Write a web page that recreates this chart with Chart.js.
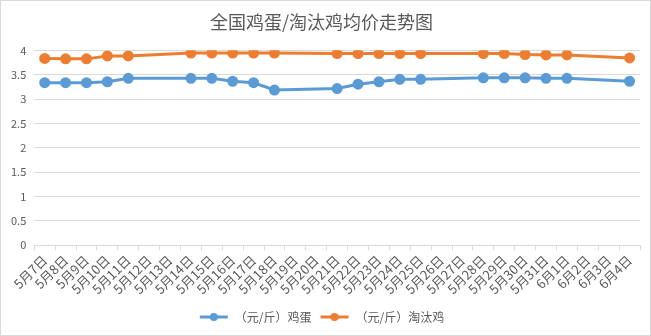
<!DOCTYPE html>
<html>
<head>
<meta charset="utf-8">
<script src="https://cdn.jsdelivr.net/npm/chart.js@4"></script>
<style>
  html, body { margin: 0; padding: 0; background: #fff; }
  .frame { position: relative; width: 649px; height: 334px; border: 1px solid #d9d9d9; }
  canvas { display: block; }
</style>
</head>
<body>
<div class="frame"><canvas id="priceChart" width="649" height="334"></canvas></div>
<script>
// dates on the x axis
const dates = ['5月7日','5月8日','5月9日','5月10日','5月11日','5月12日','5月13日','5月14日','5月15日','5月16日',
  '5月17日','5月18日','5月19日','5月20日','5月21日','5月22日','5月23日','5月24日','5月25日','5月26日',
  '5月27日','5月28日','5月29日','5月30日','5月31日','6月1日','6月2日','6月3日','6月4日'];

// egg price, yuan per jin (null = no quote that day)
const eggPrice = [3.34, 3.34, 3.34, 3.36, 3.43, null, null, 3.43, 3.43, 3.37,
  3.34, 3.19, null, null, 3.22, 3.31, 3.36, 3.41, 3.41, null,
  null, 3.44, 3.44, 3.44, 3.43, 3.43, null, null, 3.37];

// culled hen price, yuan per jin
const henPrice = [3.84, 3.83, 3.83, 3.89, 3.89, null, null, 3.95, 3.95, 3.95,
  3.95, 3.95, null, null, 3.94, 3.94, 3.94, 3.94, 3.94, null,
  null, 3.94, 3.94, 3.92, 3.91, 3.91, null, null, 3.85];

const yTicks = [0, 0.5, 1, 1.5, 2, 2.5, 3, 3.5, 4];

const BLUE = '#5b9bd5';
const ORANGE = '#ed7d31';
const TEXT = '#595959';
const FONT = '"Noto Sans CJK SC", "Microsoft YaHei", sans-serif';

// little line-with-dot marker for the legend
function legendMarker(color) {
  const c = document.createElement('canvas');
  c.width = 30; c.height = 10;
  const g = c.getContext('2d');
  g.strokeStyle = color;
  g.lineWidth = 3;
  g.beginPath(); g.moveTo(1, 5); g.lineTo(29, 5); g.stroke();
  g.fillStyle = color;
  g.beginPath(); g.arc(15, 5, 4, 0, Math.PI * 2); g.fill();
  return c;
}

const ctx = document.getElementById('priceChart').getContext('2d');
new Chart(ctx, {
  type: 'line',
  data: {
    labels: dates,
    datasets: [
      {
        label: '（元/斤）鸡蛋',
        data: eggPrice,
        borderColor: BLUE,
        backgroundColor: BLUE,
        borderWidth: 3,
        pointRadius: 4,
        pointHoverRadius: 5,
        spanGaps: true,
        tension: 0,
        marker: legendMarker(BLUE)
      },
      {
        label: '（元/斤）淘汰鸡',
        data: henPrice,
        borderColor: ORANGE,
        backgroundColor: ORANGE,
        borderWidth: 3,
        pointRadius: 4,
        pointHoverRadius: 5,
        spanGaps: true,
        tension: 0,
        marker: legendMarker(ORANGE)
      }
    ]
  },
  options: {
    responsive: false,
    animation: false,
    layout: { padding: { left: 2, right: 10, top: 4, bottom: 2 } },
    plugins: {
      title: {
        display: true,
        text: '全国鸡蛋/淘汰鸡均价走势图',
        color: TEXT,
        font: { family: FONT, size: 18, weight: 'normal' },
        padding: { top: 6, bottom: 18 }
      },
      legend: {
        position: 'bottom',
        labels: {
          usePointStyle: true,
          pointStyleWidth: 30,
          color: TEXT,
          font: { family: FONT, size: 12 },
          padding: 8,
          generateLabels(chart) {
            return chart.data.datasets.map((ds, i) => ({
              text: ds.label,
              fillStyle: ds.borderColor,
              strokeStyle: ds.borderColor,
              fontColor: TEXT,
              pointStyle: ds.marker,
              hidden: !chart.isDatasetVisible(i),
              datasetIndex: i
            }));
          }
        }
      },
      tooltip: { enabled: true }
    },
    scales: {
      x: {
        offset: true,
        // a bit of extra room under the rotated dates
        afterFit(axis) { axis.height += 4; },
        grid: {
          offset: true,
          drawOnChartArea: false,
          drawTicks: true,
          tickLength: 5,
          color: '#d9d9d9'
        },
        border: { display: true, color: '#d9d9d9' },
        ticks: {
          color: TEXT,
          font: { family: FONT, size: 13 },
          autoSkip: false,
          minRotation: 45,
          maxRotation: 45,
          padding: 2
        }
      },
      y: {
        min: 0,
        max: 4,
        afterBuildTicks(axis) {
          axis.ticks = yTicks.map(v => ({ value: v }));
        },
        grid: { color: '#d9d9d9', drawTicks: false },
        border: { display: false },
        ticks: {
          color: TEXT,
          font: { family: FONT, size: 11 },
          padding: 8,
          callback: v => String(v)
        }
      }
    }
  }
});
</script>
</body>
</html>
